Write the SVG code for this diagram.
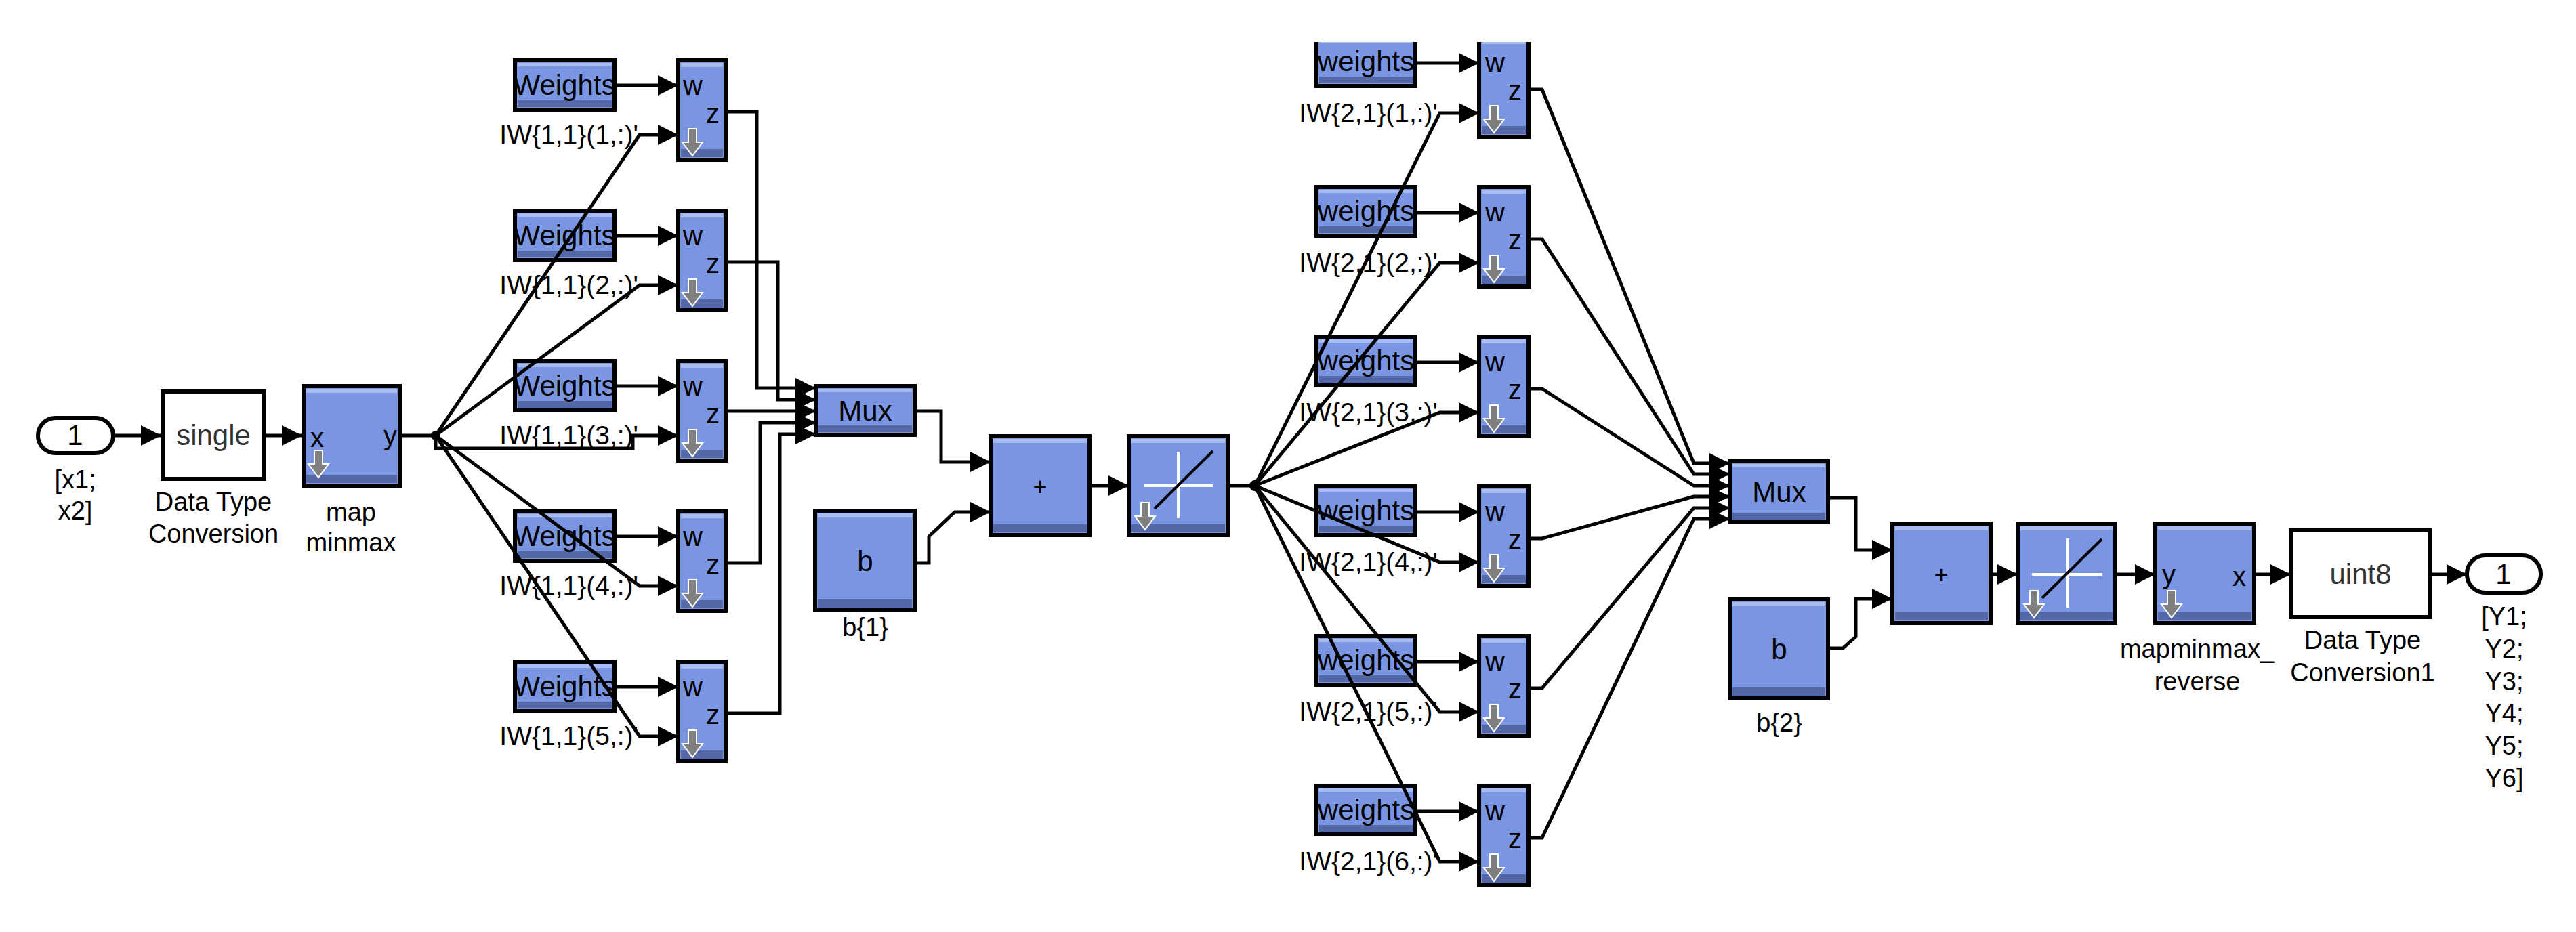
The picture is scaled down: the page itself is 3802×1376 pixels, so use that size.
<svg xmlns="http://www.w3.org/2000/svg" xmlns:xlink="http://www.w3.org/1999/xlink" width="3802" height="1376" viewBox="0 0 3802 1376">
<style>
text{font-family:"Liberation Sans",Arial,sans-serif;fill:#000}
.b{fill:#7a96e3;stroke:#000;stroke-width:6}
.hl{fill:#a9bcf0}
.sh{fill:#5468a8}
.wb{fill:#fff;stroke:#000;stroke-width:6}
.lbl{font-size:38px;text-anchor:middle}
.iw{font-size:39px;text-anchor:end}
.bt{font-size:42px;text-anchor:middle}
.pt{font-size:40px}
.c{fill:none;stroke:#000;stroke-width:5;marker-end:url(#ar)}
.n{fill:none;stroke:#000;stroke-width:5}
</style>
<defs>
<marker id="ar" viewBox="0 0 10 10" refX="10" refY="5" markerUnits="userSpaceOnUse" markerWidth="30" markerHeight="32" orient="auto"><path d="M0,0L10,5L0,10z" fill="#000"/></marker>
<g id="dn"><path d="M-6,0h12v20h9l-15,20l-15,-20h9z" fill="#7f7f7f" stroke="#fff" stroke-width="2"/></g>
</defs>
<g id="in1"><rect x="56" y="617" width="111" height="52" rx="26" class="wb"/><text x="111" y="657" class="bt">1</text><text x="111" y="721" class="lbl">[x1;</text><text x="111" y="767" class="lbl">x2]</text></g>
<g id="dtc"><rect x="240" y="578" width="150" height="129" class="wb"/><text x="315" y="657" class="bt" style="fill:#333">single</text><text x="315" y="754" class="lbl">Data Type</text><text x="315" y="801" class="lbl">Conversion</text></g>
<g id="mapminmax"><rect x="448" y="570" width="142" height="147" class="b"/><rect x="452" y="574" width="134" height="6" class="hl"/><rect x="452" y="701" width="134" height="12" class="sh"/><text x="458" y="660" class="pt">x</text><text x="566" y="657" class="pt">y</text><use xlink:href="#dn" x="470" y="665"/><text x="518" y="769" class="lbl">map</text><text x="518" y="814" class="lbl">minmax</text></g>
<g id="layer1">
<g id="w1_1"><rect x="760" y="89" width="147" height="73" class="b"/><rect x="764" y="93" width="139" height="5" class="hl"/><rect x="764" y="148" width="139" height="10" class="sh"/><text x="833" y="140" class="bt">Weights</text></g>
<g id="w1_2"><rect x="760" y="311" width="147" height="73" class="b"/><rect x="764" y="315" width="139" height="5" class="hl"/><rect x="764" y="370" width="139" height="10" class="sh"/><text x="833" y="362" class="bt">Weights</text></g>
<g id="w1_3"><rect x="760" y="533" width="147" height="73" class="b"/><rect x="764" y="537" width="139" height="5" class="hl"/><rect x="764" y="592" width="139" height="10" class="sh"/><text x="833" y="584" class="bt">Weights</text></g>
<g id="w1_4"><rect x="760" y="755" width="147" height="73" class="b"/><rect x="764" y="759" width="139" height="5" class="hl"/><rect x="764" y="814" width="139" height="10" class="sh"/><text x="833" y="806" class="bt">Weights</text></g>
<g id="w1_5"><rect x="760" y="977" width="147" height="73" class="b"/><rect x="764" y="981" width="139" height="5" class="hl"/><rect x="764" y="1036" width="139" height="10" class="sh"/><text x="833" y="1028" class="bt">Weights</text></g>
<text x="942" y="212" class="iw">IW{1,1}(1,:)'</text>
<text x="942" y="434" class="iw">IW{1,1}(2,:)'</text>
<text x="942" y="656" class="iw">IW{1,1}(3,:)'</text>
<text x="942" y="878" class="iw">IW{1,1}(4,:)'</text>
<text x="942" y="1100" class="iw">IW{1,1}(5,:)'</text>
<g id="p1_1"><rect x="1001" y="89" width="70" height="147" class="b"/><rect x="1005" y="93" width="62" height="6" class="hl"/><rect x="1005" y="220" width="62" height="12" class="sh"/><text x="1008" y="140" class="pt">w</text><text x="1042" y="181" class="pt">z</text><use xlink:href="#dn" x="1022" y="190"/></g>
<g id="p1_2"><rect x="1001" y="311" width="70" height="147" class="b"/><rect x="1005" y="315" width="62" height="6" class="hl"/><rect x="1005" y="442" width="62" height="12" class="sh"/><text x="1008" y="362" class="pt">w</text><text x="1042" y="403" class="pt">z</text><use xlink:href="#dn" x="1022" y="412"/></g>
<g id="p1_3"><rect x="1001" y="533" width="70" height="147" class="b"/><rect x="1005" y="537" width="62" height="6" class="hl"/><rect x="1005" y="664" width="62" height="12" class="sh"/><text x="1008" y="584" class="pt">w</text><text x="1042" y="625" class="pt">z</text><use xlink:href="#dn" x="1022" y="634"/></g>
<g id="p1_4"><rect x="1001" y="755" width="70" height="147" class="b"/><rect x="1005" y="759" width="62" height="6" class="hl"/><rect x="1005" y="886" width="62" height="12" class="sh"/><text x="1008" y="806" class="pt">w</text><text x="1042" y="847" class="pt">z</text><use xlink:href="#dn" x="1022" y="856"/></g>
<g id="p1_5"><rect x="1001" y="977" width="70" height="147" class="b"/><rect x="1005" y="981" width="62" height="6" class="hl"/><rect x="1005" y="1108" width="62" height="12" class="sh"/><text x="1008" y="1028" class="pt">w</text><text x="1042" y="1069" class="pt">z</text><use xlink:href="#dn" x="1022" y="1078"/></g>
</g>
<g id="mux1"><rect x="1204" y="570" width="146" height="72" class="b"/><rect x="1208" y="574" width="138" height="5" class="hl"/><rect x="1208" y="628" width="138" height="10" class="sh"/><text x="1277" y="621" class="bt">Mux</text></g>
<g id="b1"><rect x="1203" y="754" width="147" height="147" class="b"/><rect x="1207" y="758" width="139" height="6" class="hl"/><rect x="1207" y="885" width="139" height="12" class="sh"/><text x="1277" y="843" class="bt">b</text><text x="1277" y="939" class="lbl">b{1}</text></g>
<g id="sum1"><rect x="1462" y="644" width="146" height="146" class="b"/><rect x="1466" y="648" width="138" height="6" class="hl"/><rect x="1466" y="774" width="138" height="12" class="sh"/><text x="1535" y="731" class="bt" style="font-size:36px">+</text></g>
<g id="tansig1"><rect x="1666" y="644" width="146" height="146" class="b"/><rect x="1670" y="648" width="138" height="6" class="hl"/><rect x="1670" y="774" width="138" height="12" class="sh"/><path d="M1739,667V765M1688,717H1790" stroke="#fff" stroke-width="4"/><path d="M1704,751L1790,666" stroke="#000" stroke-width="4"/><use xlink:href="#dn" x="1690" y="742"/></g>
<g id="layer2">
<g id="w2_1"><rect x="1943" y="55" width="146" height="72" class="b"/><rect x="1947" y="59" width="138" height="5" class="hl"/><rect x="1947" y="113" width="138" height="10" class="sh"/><text x="2016" y="105" class="bt">weights</text></g>
<g id="w2_2"><rect x="1943" y="276" width="146" height="72" class="b"/><rect x="1947" y="280" width="138" height="5" class="hl"/><rect x="1947" y="334" width="138" height="10" class="sh"/><text x="2016" y="326" class="bt">weights</text></g>
<g id="w2_3"><rect x="1943" y="497" width="146" height="72" class="b"/><rect x="1947" y="501" width="138" height="5" class="hl"/><rect x="1947" y="555" width="138" height="10" class="sh"/><text x="2016" y="547" class="bt">weights</text></g>
<g id="w2_4"><rect x="1943" y="718" width="146" height="72" class="b"/><rect x="1947" y="722" width="138" height="5" class="hl"/><rect x="1947" y="776" width="138" height="10" class="sh"/><text x="2016" y="768" class="bt">weights</text></g>
<g id="w2_5"><rect x="1943" y="939" width="146" height="72" class="b"/><rect x="1947" y="943" width="138" height="5" class="hl"/><rect x="1947" y="997" width="138" height="10" class="sh"/><text x="2016" y="989" class="bt">weights</text></g>
<g id="w2_6"><rect x="1943" y="1160" width="146" height="72" class="b"/><rect x="1947" y="1164" width="138" height="5" class="hl"/><rect x="1947" y="1218" width="138" height="10" class="sh"/><text x="2016" y="1210" class="bt">weights</text></g>
<text x="2122" y="180" class="iw">IW{2,1}(1,:)'</text>
<text x="2122" y="401" class="iw">IW{2,1}(2,:)'</text>
<text x="2122" y="622" class="iw">IW{2,1}(3,:)'</text>
<text x="2122" y="843" class="iw">IW{2,1}(4,:)'</text>
<text x="2122" y="1064" class="iw">IW{2,1}(5,:)'</text>
<text x="2122" y="1285" class="iw">IW{2,1}(6,:)'</text>
<g id="p2_1"><rect x="2183" y="55" width="73" height="147" class="b"/><rect x="2187" y="59" width="65" height="6" class="hl"/><rect x="2187" y="186" width="65" height="12" class="sh"/><text x="2192" y="106" class="pt">w</text><text x="2226" y="147" class="pt">z</text><use xlink:href="#dn" x="2205" y="156"/></g>
<g id="p2_2"><rect x="2183" y="276" width="73" height="147" class="b"/><rect x="2187" y="280" width="65" height="6" class="hl"/><rect x="2187" y="407" width="65" height="12" class="sh"/><text x="2192" y="327" class="pt">w</text><text x="2226" y="368" class="pt">z</text><use xlink:href="#dn" x="2205" y="377"/></g>
<g id="p2_3"><rect x="2183" y="497" width="73" height="147" class="b"/><rect x="2187" y="501" width="65" height="6" class="hl"/><rect x="2187" y="628" width="65" height="12" class="sh"/><text x="2192" y="548" class="pt">w</text><text x="2226" y="589" class="pt">z</text><use xlink:href="#dn" x="2205" y="598"/></g>
<g id="p2_4"><rect x="2183" y="718" width="73" height="147" class="b"/><rect x="2187" y="722" width="65" height="6" class="hl"/><rect x="2187" y="849" width="65" height="12" class="sh"/><text x="2192" y="769" class="pt">w</text><text x="2226" y="810" class="pt">z</text><use xlink:href="#dn" x="2205" y="819"/></g>
<g id="p2_5"><rect x="2183" y="939" width="73" height="147" class="b"/><rect x="2187" y="943" width="65" height="6" class="hl"/><rect x="2187" y="1070" width="65" height="12" class="sh"/><text x="2192" y="990" class="pt">w</text><text x="2226" y="1031" class="pt">z</text><use xlink:href="#dn" x="2205" y="1040"/></g>
<g id="p2_6"><rect x="2183" y="1160" width="73" height="147" class="b"/><rect x="2187" y="1164" width="65" height="6" class="hl"/><rect x="2187" y="1291" width="65" height="12" class="sh"/><text x="2192" y="1211" class="pt">w</text><text x="2226" y="1252" class="pt">z</text><use xlink:href="#dn" x="2205" y="1261"/></g>
</g>
<g id="mux2"><rect x="2553" y="681" width="145" height="90" class="b"/><rect x="2557" y="685" width="137" height="5" class="hl"/><rect x="2557" y="757" width="137" height="10" class="sh"/><text x="2626" y="741" class="bt">Mux</text></g>
<g id="b2"><rect x="2553" y="885" width="145" height="146" class="b"/><rect x="2557" y="889" width="137" height="6" class="hl"/><rect x="2557" y="1015" width="137" height="12" class="sh"/><text x="2626" y="973" class="bt">b</text><text x="2626" y="1080" class="lbl">b{2}</text></g>
<g id="sum2"><rect x="2793" y="773" width="145" height="147" class="b"/><rect x="2797" y="777" width="137" height="6" class="hl"/><rect x="2797" y="904" width="137" height="12" class="sh"/><text x="2865" y="861" class="bt" style="font-size:36px">+</text></g>
<g id="tansig2"><rect x="2978" y="773" width="144" height="147" class="b"/><rect x="2982" y="777" width="136" height="6" class="hl"/><rect x="2982" y="904" width="136" height="12" class="sh"/><path d="M3052,795V897M2999,848H3103" stroke="#fff" stroke-width="4"/><path d="M3014,883L3102,796" stroke="#000" stroke-width="4"/><use xlink:href="#dn" x="3002" y="872"/></g>
<g id="mapminmax_reverse"><rect x="3181" y="773" width="146" height="147" class="b"/><rect x="3185" y="777" width="138" height="6" class="hl"/><rect x="3185" y="904" width="138" height="12" class="sh"/><text x="3191" y="862" class="pt">y</text><text x="3295" y="865" class="pt">x</text><use xlink:href="#dn" x="3205" y="872"/><text x="3243" y="971" class="lbl">mapminmax_</text><text x="3243" y="1019" class="lbl">reverse</text></g>
<g id="dtc1"><rect x="3381" y="783" width="205" height="128" class="wb"/><text x="3484" y="862" class="bt" style="fill:#333">uint8</text><text x="3487" y="958" class="lbl">Data Type</text><text x="3487" y="1006" class="lbl">Conversion1</text></g>
<g id="out1"><rect x="3641" y="820" width="109" height="55" rx="27" class="wb"/><text x="3695" y="862" class="bt">1</text>
<text x="3696" y="923" class="lbl">[Y1;</text><text x="3696" y="971" class="lbl">Y2;</text><text x="3696" y="1019" class="lbl">Y3;</text><text x="3696" y="1066" class="lbl">Y4;</text><text x="3696" y="1114" class="lbl">Y5;</text><text x="3696" y="1162" class="lbl">Y6]</text></g>
<g id="connectors">
<path class="c" d="M167,643H238"/>
<path class="c" d="M390,643H446"/>
<path class="n" d="M590,643H643"/>
<circle cx="643" cy="643" r="7"/>
<path class="c" d="M643,643L944,199H1001"/>
<path class="c" d="M643,643L944,421H1001"/>
<path class="c" d="M643,643V662H934V643H1001"/>
<path class="c" d="M643,643L944,865H1001"/>
<path class="c" d="M643,643L944,1087H1001"/>
<path class="c" d="M907,126H1001"/>
<path class="c" d="M907,348H1001"/>
<path class="c" d="M907,570H1001"/>
<path class="c" d="M907,792H1001"/>
<path class="c" d="M907,1014H1001"/>
<path class="c" d="M1071,165H1117V573H1204"/>
<path class="c" d="M1071,387H1148V590H1204"/>
<path class="c" d="M1071,607H1204"/>
<path class="c" d="M1071,831H1122V624H1204"/>
<path class="c" d="M1071,1053H1151V641H1204"/>
<path class="c" d="M1350,607H1389V682H1462"/>
<path class="c" d="M1350,831H1371V792L1409,756H1462"/>
<path class="c" d="M1608,717H1666"/>
<path class="n" d="M1812,717H1852"/>
<circle cx="1852" cy="717" r="8"/>
<path class="c" d="M1852,717L2125,167H2183"/>
<path class="c" d="M1852,717L2125,388H2183"/>
<path class="c" d="M1852,717L2125,609H2183"/>
<path class="c" d="M1852,717L2125,830H2183"/>
<path class="c" d="M1852,717L2125,1051H2183"/>
<path class="c" d="M1852,717L2125,1272H2183"/>
<path class="c" d="M2089,93H2183"/>
<path class="c" d="M2089,314H2183"/>
<path class="c" d="M2089,535H2183"/>
<path class="c" d="M2089,756H2183"/>
<path class="c" d="M2089,977H2183"/>
<path class="c" d="M2089,1198H2183"/>
<path class="c" d="M2256,132H2276L2500,684H2553"/>
<path class="c" d="M2256,353H2276L2500,700H2553"/>
<path class="c" d="M2256,574H2276L2500,717H2553"/>
<path class="c" d="M2256,795H2276L2500,733H2553"/>
<path class="c" d="M2256,1016H2276L2500,750H2553"/>
<path class="c" d="M2256,1237H2276L2500,766H2553"/>
<path class="c" d="M2698,735H2739V812H2793"/>
<path class="c" d="M2698,957H2720L2739,940V884H2793"/>
<path class="c" d="M2938,848H2978"/>
<path class="c" d="M3122,848H3181"/>
<path class="c" d="M3327,848H3381"/>
<path class="c" d="M3586,848H3641"/>
</g>
<rect x="1900" y="0" width="400" height="62" fill="#fff"/>
</svg>
